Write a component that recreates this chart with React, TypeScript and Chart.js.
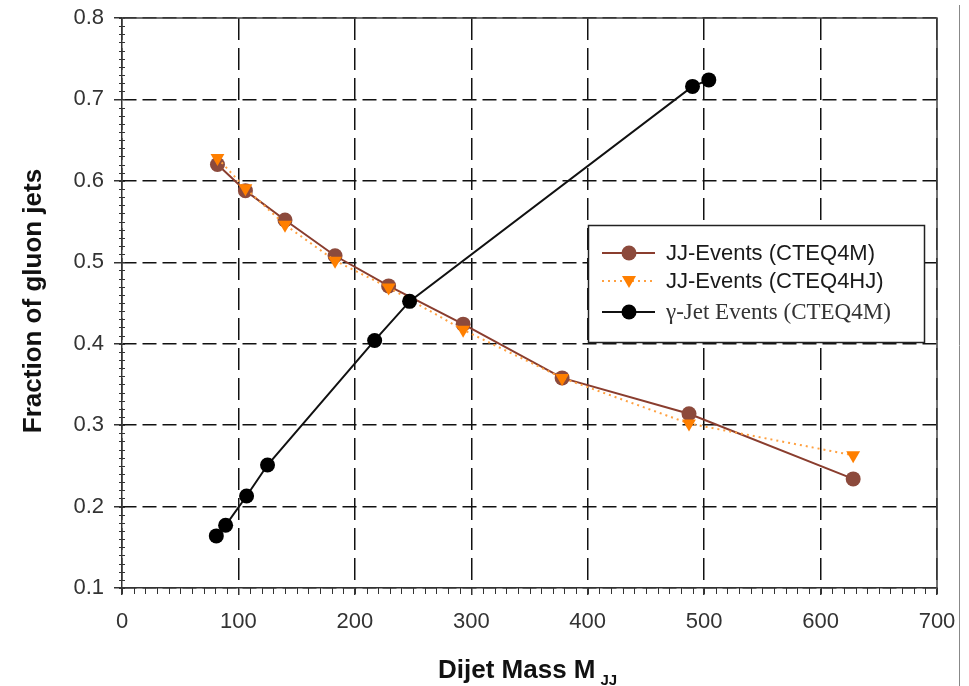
import React, { useEffect, useRef } from "react";
import { Chart, registerables } from "chart.js";

Chart.register(...registerables);

// ---- data ----
const jjMassCTEQ4M = [82, 106, 140, 183, 229, 293, 378, 487, 628];
const jjFracCTEQ4M = [0.62, 0.588, 0.552, 0.508, 0.471, 0.424, 0.358, 0.314, 0.234];
const jjMassCTEQ4HJ = [82, 106, 140, 183, 229, 293, 378, 487, 628];
const jjFracCTEQ4HJ = [0.628, 0.591, 0.546, 0.502, 0.469, 0.417, 0.358, 0.302, 0.263];
const gammaMass = [81, 89, 107, 125, 217, 247, 490, 504];
const gammaFrac = [0.164, 0.177, 0.213, 0.251, 0.404, 0.452, 0.716, 0.724];

const xTicks = [0, 100, 200, 300, 400, 500, 600, 700];
const yTicks = [0.1, 0.2, 0.3, 0.4, 0.5, 0.6, 0.7, 0.8];

const seriesNames = ["JJ-Events (CTEQ4M)", "JJ-Events (CTEQ4HJ)", "\u03b3-Jet Events (CTEQ4M)"];
const xTitle = "Dijet Mass M";
const xTitleSub = "JJ";
const yTitle = "Fraction of gluon jets";

const SANS = "'Liberation Sans', Arial, sans-serif";
const SERIF = "'Liberation Serif', 'Times New Roman', serif";

const BROWN_LINE = "#8a3d2e";
const BROWN_FILL = "#8c4a3c";
const ORANGE_FILL = "#ff7f00";
const ORANGE_LINE = "#ffa040";

const toPts = (xs: number[], ys: number[]) => xs.map((x, i) => ({ x, y: ys[i] }));

const decorPlugin = {
  id: "decor",
  beforeDatasetsDraw(chart: any) {
    const { ctx, chartArea, scales } = chart;
    const xs = scales.x;
    const ys = scales.y;
    ctx.save();
    // minor ticks
    ctx.strokeStyle = "#333";
    ctx.lineWidth = 1;
    ctx.beginPath();
    for (let v = 0; v <= 700; v += 10) {
      const px = Math.round(xs.getPixelForValue(v)) + 0.5;
      ctx.moveTo(px, chartArea.bottom);
      ctx.lineTo(px, chartArea.bottom + 6);
    }
    for (let k = 10; k <= 80; k += 1) {
      const py = Math.round(ys.getPixelForValue(k / 100)) + 0.5;
      ctx.moveTo(chartArea.left - 3, py);
      ctx.lineTo(chartArea.left + 3, py);
    }
    ctx.stroke();
    // top / right frame
    ctx.strokeStyle = "#444";
    ctx.lineWidth = 1.5;
    ctx.beginPath();
    ctx.moveTo(chartArea.left, chartArea.top);
    ctx.lineTo(chartArea.right, chartArea.top);
    ctx.lineTo(chartArea.right, chartArea.bottom);
    ctx.stroke();
    // outer page line
    ctx.strokeStyle = "#888";
    ctx.lineWidth = 1;
    ctx.beginPath();
    ctx.moveTo(959.5, 5);
    ctx.lineTo(959.5, 686);
    ctx.stroke();
    ctx.restore();
  },
  afterDatasetsDraw(chart: any) {
    const { ctx } = chart;
    ctx.save();
    // legend box
    const lx = 588, ly = 225, lw = 336, lh = 117;
    ctx.fillStyle = "#fff";
    ctx.fillRect(lx, ly, lw, lh);
    ctx.strokeStyle = "#222";
    ctx.lineWidth = 1.5;
    ctx.strokeRect(lx + 0.5, ly + 0.5, lw, lh);
    const rows = [253, 281, 312];
    const x0 = 602, x1 = 655, xm = 629, tx = 666;
    // row 1
    ctx.strokeStyle = BROWN_LINE;
    ctx.lineWidth = 2;
    ctx.setLineDash([]);
    ctx.beginPath();
    ctx.moveTo(x0, rows[0]);
    ctx.lineTo(x1, rows[0]);
    ctx.stroke();
    ctx.fillStyle = BROWN_FILL;
    ctx.beginPath();
    ctx.arc(xm, rows[0], 7.5, 0, Math.PI * 2);
    ctx.fill();
    // row 2
    ctx.strokeStyle = ORANGE_LINE;
    ctx.setLineDash([2, 4]);
    ctx.beginPath();
    ctx.moveTo(x0, rows[1]);
    ctx.lineTo(x1, rows[1]);
    ctx.stroke();
    ctx.setLineDash([]);
    ctx.fillStyle = ORANGE_FILL;
    ctx.beginPath();
    ctx.moveTo(xm - 7, rows[1] - 5);
    ctx.lineTo(xm + 7, rows[1] - 5);
    ctx.lineTo(xm, rows[1] + 7);
    ctx.closePath();
    ctx.fill();
    // row 3
    ctx.strokeStyle = "#111";
    ctx.beginPath();
    ctx.moveTo(x0, rows[2]);
    ctx.lineTo(x1, rows[2]);
    ctx.stroke();
    ctx.fillStyle = "#000";
    ctx.beginPath();
    ctx.arc(xm, rows[2], 7.5, 0, Math.PI * 2);
    ctx.fill();
    // texts
    ctx.fillStyle = "#1a1a1a";
    ctx.textBaseline = "middle";
    ctx.textAlign = "left";
    ctx.font = `22px ${SANS}`;
    ctx.fillText(seriesNames[0], tx, rows[0] + 1);
    ctx.fillText(seriesNames[1], tx, rows[1] + 1);
    ctx.font = `23px ${SERIF}`;
    ctx.fillStyle = "#333";
    ctx.fillText(seriesNames[2], tx, rows[2] + 1);
    ctx.restore();
  },
  afterDraw(chart: any) {
    const { ctx } = chart;
    ctx.save();
    ctx.fillStyle = "#111";
    // x title with subscript
    ctx.font = `bold 26px ${SANS}`;
    const mainW = ctx.measureText(xTitle).width;
    const startX = 438;
    ctx.textAlign = "left";
    ctx.textBaseline = "alphabetic";
    ctx.fillText(xTitle, startX, 678);
    ctx.font = `bold 15px ${SANS}`;
    ctx.fillText(xTitleSub, startX + mainW + 5, 685);
    // y title
    ctx.translate(34, 301);
    ctx.rotate(-Math.PI / 2);
    ctx.textAlign = "center";
    ctx.textBaseline = "middle";
    ctx.font = `bold 26px ${SANS}`;
    ctx.fillText(yTitle, 0, 0);
    ctx.restore();
  },
};

export default function App() {
  const ref = useRef<HTMLCanvasElement>(null);
  useEffect(() => {
    document.body.style.margin = "0";
    const canvas = ref.current!;
    const chart = new Chart(canvas, {
      type: "line",
      data: {
        datasets: [
          {
            label: seriesNames[2],
            data: toPts(gammaMass, gammaFrac),
            borderColor: "#111",
            backgroundColor: "#000",
            borderWidth: 2,
            pointRadius: 7.5,
            pointBorderWidth: 0,
            pointStyle: "circle",
            order: 0,
          },
          {
            label: seriesNames[1],
            data: toPts(jjMassCTEQ4HJ, jjFracCTEQ4HJ),
            borderColor: ORANGE_LINE,
            backgroundColor: ORANGE_FILL,
            borderDash: [2, 4],
            borderWidth: 2,
            pointRadius: 8,
            pointBorderWidth: 0,
            pointStyle: "triangle",
            pointRotation: 180,
            order: 1,
          },
          {
            label: seriesNames[0],
            data: toPts(jjMassCTEQ4M, jjFracCTEQ4M),
            borderColor: BROWN_LINE,
            backgroundColor: BROWN_FILL,
            borderWidth: 2,
            pointRadius: 7.5,
            pointBorderWidth: 0,
            pointStyle: "circle",
            order: 2,
          },
        ],
      },
      options: {
        responsive: false,
        animation: false,
        events: [],
        layout: { padding: { left: 0, top: 18, right: 32, bottom: 0 } },
        plugins: { legend: { display: false }, tooltip: { enabled: false } },
        elements: { line: { tension: 0 } },
        scales: {
          x: {
            type: "linear",
            min: 0,
            max: 700,
            afterFit: (s: any) => {
              s.height = 98;
              s.paddingLeft = 0;
              s.paddingRight = 0;
            },
            afterBuildTicks: (s: any) => { s.ticks = xTicks.map((v) => ({ value: v })); },
            ticks: {
              color: "#333",
              font: { family: SANS, size: 22 },
              padding: 14,
              maxRotation: 0,
              callback: (v: any) => String(v),
            },
            grid: {
              color: "#111",
              lineWidth: 1.5,
              tickLength: 7,
              tickColor: "#333",
              tickBorderDash: [],
            },
            border: { display: true, color: "#333", width: 1.5, dash: [22, 8] },
            title: { display: false },
          },
          y: {
            type: "linear",
            min: 0.1,
            max: 0.8,
            afterFit: (s: any) => {
              s.width = 122;
              s.paddingTop = 0;
              s.paddingBottom = 0;
            },
            afterBuildTicks: (s: any) => { s.ticks = yTicks.map((v) => ({ value: v })); },
            ticks: {
              color: "#333",
              font: { family: SANS, size: 22 },
              padding: 10,
              callback: (v: any) => Number(v).toFixed(1),
            },
            grid: {
              color: "#111",
              lineWidth: 1.5,
              tickLength: 8,
              tickColor: "#333",
              tickBorderDash: [],
            },
            border: { display: true, color: "#333", width: 1.5, dash: [14, 6] },
            title: { display: false },
          },
        },
      },
      plugins: [decorPlugin],
    } as any);
    return () => chart.destroy();
  }, []);
  return (
    <div style={{ width: 969, height: 686, background: "#fff" }}>
      <canvas ref={ref} width={969} height={686} style={{ display: "block" }} />
    </div>
  );
}
